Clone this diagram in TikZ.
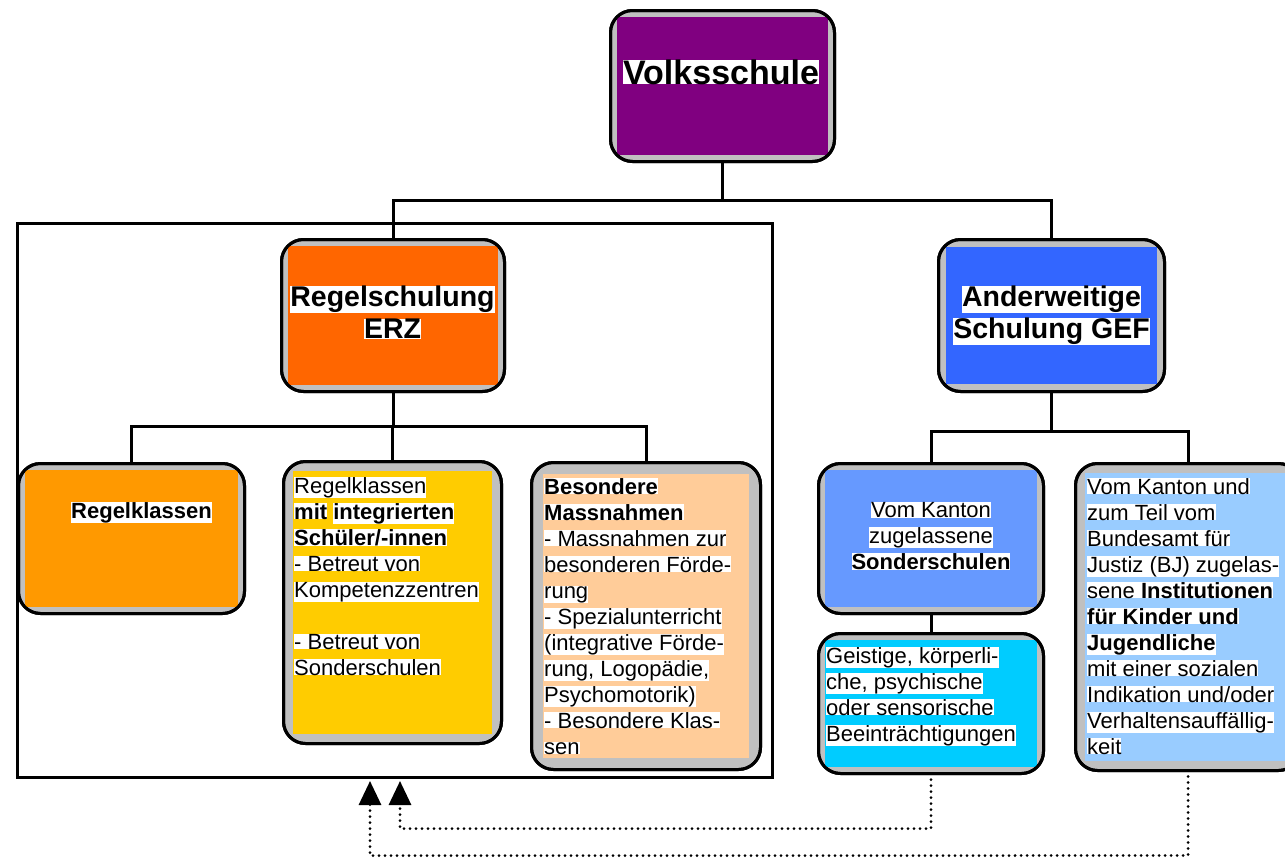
\documentclass[tikz,border=0pt]{standalone}
\usepackage{fontspec}
\setmainfont{Liberation Sans}
\usetikzlibrary{arrows.meta,calc}
\definecolor{boxgray}{HTML}{C0C0C0}
\definecolor{cvolk}{HTML}{800080}
\definecolor{cregel}{HTML}{FF6600}
\definecolor{cander}{HTML}{3366FF}
\definecolor{crk}{HTML}{FF9900}
\definecolor{crkm}{HTML}{FFCC00}
\definecolor{cbm}{HTML}{FFCC99}
\definecolor{csond}{HTML}{6699FF}
\definecolor{cgeist}{HTML}{00CCFF}
\definecolor{cinst}{HTML}{99CCFF}
\newcommand\hlt[1]{{\setlength\fboxsep{0pt}\colorbox{white}{#1}}}
\newcommand\drawubox[7]{%
  \pgfmathsetmacro\ubw{#4-#2-3}%
  \pgfmathsetmacro\ubh{#5-#3-3}%
  \node[outerbox, minimum width=\ubw pt, minimum height=\ubh pt] (#1) at ({(#2+#4)/2},{(#3+#5)/2}) {};
  \fill[#6] ({#2+#7},{#3+#7}) rectangle ({#4-#7},{#5-#7});
  \draw[boxline] (#1.south west) rectangle (#1.north east);
}
\tikzset{
  outerbox/.style={draw, fill=boxgray, line width=3pt, rounded corners=22pt, inner sep=0pt, outer sep=0pt},
  boxline/.style={draw, line width=3pt, rounded corners=22pt},
  conn/.style={line width=3pt},
  dotc/.style={line width=3pt, dash pattern=on 0pt off 6pt, line cap=round},
  tip/.style={-{Triangle[length=24pt,width=22pt]}},
  title/.style={inner sep=0pt, align=center, font=\fontsize{28.5}{32}\selectfont\bfseries},
  body/.style={inner sep=0pt, align=left, anchor=north west, font=\fontsize{22}{26}\selectfont},
  bodyc/.style={inner sep=0pt, align=center, anchor=north, font=\fontsize{22}{26}\selectfont},
}
\begin{document}
\begin{tikzpicture}[x=1pt,y=-1pt]
\path[use as bounding box] (0,0) rectangle (1285,857);
\clip (0,0) rectangle (1285,857);

% frame
\node[draw, line width=3pt, minimum width=755pt, minimum height=554pt, inner sep=0pt, outer sep=0pt] (frame) at (395,500.5) {};

% boxes
\drawubox{volk}{609}{9}{836}{163}{cvolk}{8}
\drawubox{regel}{280}{238}{506}{393}{cregel}{8}
\drawubox{ander}{937}{238}{1166}{393}{cander}{9}
\drawubox{rk}{17}{462}{246}{615}{crk}{8}
\drawubox{rkm}{282}{460}{503}{745}{crkm}{11}
\drawubox{bm}{530}{461}{762}{771}{cbm}{13}
\drawubox{sond}{817}{462}{1045}{615}{csond}{8}
\drawubox{geist}{817}{632}{1045}{775}{cgeist}{8}
\drawubox{inst}{1074}{462}{1302}{772}{cinst}{11}

% connectors
\draw[conn] (volk.south) -- ++(0,39) coordinate (j1);
\draw[conn] (regel.north) |- (j1) -| (ander.north);
\draw[conn] (regel.south) -- ++(0,35) coordinate (j2);
\draw[conn] (rk.north) |- (j2) -| (bm.north);
\draw[conn] (rkm.north) -- (rkm.north |- j2);
\draw[conn] (ander.south) -- ++(0,40) coordinate (j3);
\draw[conn] (sond.north) |- (j3) -| (inst.north);
\draw[conn] (sond.south) -- (geist.north);

\coordinate (tipA) at (400,781);
\coordinate (tipB) at (370,781);
\draw[dotc, tip] (geist.south) -- ++(0,55) -| (tipA);
\draw[dotc, tip] (inst.south) -- ++(0,85) -| (tipB);

% texts
\node[title, font=\fontsize{34}{36}\selectfont\bfseries] (volk-t) at (721,72) {\hlt{Volksschule}};
\node[title, anchor=north] (regel-t) at (392.5,286) {\hlt{Regelschulung}\\\hlt{ERZ}};
\node[title, anchor=north] (ander-t) at (1051.5,286) {\hlt{Anderweitige}\\\hlt{Schulung GEF}};
\node[body] (rk-t) at (71,502) {\hlt{\bfseries Regelklassen}};
\node[body] (rkm-t) at (294,477) {\hlt{Regelklassen}\\
  \hlt{\bfseries mit} \hlt{\bfseries integrierten}\\
  \hlt{\bfseries Schüler/-innen}\\
  \hlt{- Betreut von}\\
  \hlt{Kompetenzzentren}\\
  \mbox{}\\
  \hlt{- Betreut von}\\
  \hlt{Sonderschulen}};
\node[body] (bm-t) at (544,478) {\hlt{\bfseries Besondere}\\
  \hlt{\bfseries Massnahmen}\\
  \hlt{- Massnahmen zur}\\
  \hlt{besonderen Förde-}\\
  \hlt{rung}\\
  \hlt{- Spezialunterricht}\\
  \hlt{(integrative Förde-}\\
  \hlt{rung, Logopädie,}\\
  \hlt{Psychomotorik)}\\
  \hlt{- Besondere Klas-}\\
  \hlt{sen}};
\node[bodyc] (sond-t) at (931,502) {\hlt{Vom Kanton}\\\hlt{zugelassene}\\\hlt{\bfseries Sonderschulen}};
\node[body] (geist-t) at (826,647) {\hlt{Geistige, körperli-}\\
  \hlt{che, psychische}\\
  \hlt{oder sensorische}\\
  \hlt{Beeinträchtigungen}};
\node[body] (inst-t) at (1087,478) {\hlt{Vom Kanton und}\\
  \hlt{zum Teil vom}\\
  \hlt{Bundesamt für}\\
  \hlt{Justiz (BJ) zugelas-}\\
  \hlt{sene \textbf{Institutionen}}\\
  \hlt{\bfseries für Kinder und}\\
  \hlt{\bfseries Jugendliche}\\
  \hlt{mit einer sozialen}\\
  \hlt{Indikation und/oder}\\
  \hlt{Verhaltensauffällig-}\\
  \hlt{keit}};
\end{tikzpicture}
\end{document}
